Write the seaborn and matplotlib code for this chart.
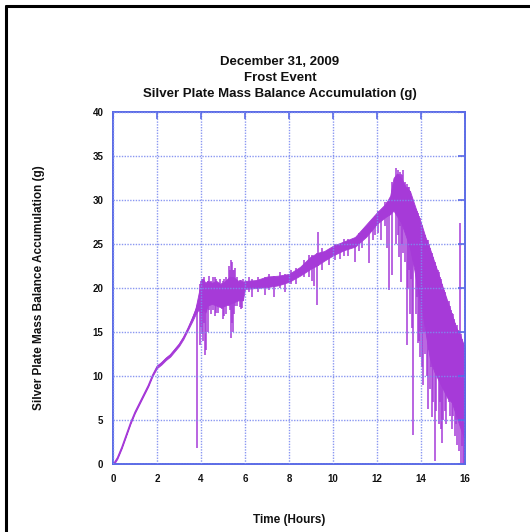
import numpy as np
import pandas as pd
import matplotlib
matplotlib.use("Agg")
import matplotlib.pyplot as plt
import seaborn as sns
from matplotlib.lines import Line2D

# ---- data ----
hours = [0.05, 0.2, 0.4, 0.6, 0.8, 1.0, 1.2, 1.4, 1.6, 1.8, 2.0, 2.2, 2.4, 2.6, 2.8,
         3.0, 3.2, 3.4, 3.6, 3.75, 3.9, 4.0, 4.1, 4.2, 4.3, 4.5, 4.7, 4.9, 5.1, 5.3,
         5.5, 5.7, 5.9, 6.0, 6.5, 7.0, 7.5, 8.0, 8.5, 9.0, 9.3, 9.6, 10.0, 10.5, 11.0,
         11.5, 12.0, 12.4, 12.6, 12.75, 12.9, 13.1, 13.3, 13.5, 13.7, 13.9, 14.05, 14.2,
         14.4, 14.6, 14.8, 15.0, 15.2, 15.4, 15.6, 15.8, 15.95, 16.0]
mass_lower = [0.0, 0.6, 1.8, 3.2, 4.6, 5.8, 6.8, 7.8, 8.8, 10.0, 10.9, 11.3, 11.8, 12.2, 12.8,
              13.4, 14.2, 15.2, 16.2, 17.0, 17.6, 17.0, 17.6, 17.2, 18.0, 18.2, 18.0, 17.8, 18.0, 18.2,
              18.4, 18.6, 18.6, 19.9, 20.0, 20.1, 20.3, 20.7, 21.4, 22.2, 22.6, 23.1, 23.7, 24.3, 24.7,
              25.8, 27.3, 28.1, 28.4, 28.8, 28.2, 27.4, 26.0, 24.5, 22.0, 19.0, 17.5, 15.0,
              12.0, 10.5, 9.5, 8.5, 7.5, 7.0, 5.5, 4.0, 3.0, 3.0]
mass_upper = [0.2, 0.8, 2.0, 3.4, 4.8, 6.0, 7.0, 8.0, 9.0, 10.2, 11.2, 11.6, 12.1, 12.5, 13.1,
              13.7, 14.5, 15.5, 16.7, 17.7, 19.5, 20.8, 21.0, 20.6, 20.8, 20.6, 20.8, 20.4, 20.8, 21.3,
              21.2, 20.8, 20.7, 20.8, 20.9, 21.3, 21.4, 21.6, 22.4, 23.6, 24.0, 24.2, 24.8, 25.3, 25.8,
              27.2, 28.6, 29.6, 30.5, 32.5, 33.0, 32.5, 31.5, 31.0, 29.5, 28.0, 27.0, 25.8,
              24.5, 23.0, 21.5, 20.0, 18.5, 17.0, 15.5, 14.5, 13.5, 13.3]

spike_hours = [3.82, 3.97, 4.02, 4.05, 4.1, 4.14, 4.18, 4.24, 4.3, 4.35, 4.45, 4.55, 4.62, 4.7,
               4.78, 4.85, 4.95, 5.0, 5.05, 5.15, 5.25, 5.32, 5.38, 5.42, 5.45, 5.5, 5.55, 5.65,
               5.75, 5.8, 5.87, 5.92, 6.2, 6.3, 6.6, 6.9, 7.1, 7.3, 7.6, 7.8, 8.1, 8.3, 8.7, 8.9,
               9.05, 9.15, 9.27, 9.33, 9.5, 9.8, 10.1, 10.3, 10.5, 10.7, 11.0, 11.2, 11.3, 11.62,
               11.8, 11.9, 12.05, 12.2, 12.35, 12.45, 12.55, 12.7, 12.85, 12.95, 13.0, 13.05,
               13.1, 13.15, 13.2, 13.25, 13.35, 13.4, 13.45, 13.5, 13.55, 13.6, 13.65, 13.75,
               13.8, 13.85, 13.9, 13.95, 14.0, 14.05, 14.1, 14.15, 14.2, 14.25, 14.3, 14.35,
               14.4, 14.45, 14.5, 14.55, 14.6, 14.65, 14.7, 14.75, 14.8, 14.85, 14.9, 14.95,
               15.0, 15.05, 15.1, 15.15, 15.2, 15.25, 15.3, 15.35, 15.4, 15.45, 15.5, 15.55,
               15.6, 15.62, 15.68, 15.72, 15.75, 15.8, 15.85, 15.9, 15.95]
spike_low = [1.8, 13.5, 15.6, 14.8, 14.0, 16.0, 12.4, 13.0, 15.0, 17.5, 17.0, 17.5, 16.8, 17.2,
             17.2, 17.8, 17.6, 16.5, 16.8, 17.0, 18.0, 17.5, 14.3, 16.0, 15.0, 17.0, 18.0, 18.0,
             17.8, 17.6, 17.7, 18.5, 19.5, 19.0, 19.6, 19.2, 19.8, 19.0, 20.0, 19.6, 20.4, 20.5,
             21.2, 21.2, 20.8, 20.2, 18.1, 22.5, 22.0, 22.6, 23.2, 23.3, 23.6, 23.6, 23.0, 24.2,
             24.5, 22.8, 25.5, 26.0, 26.3, 25.5, 27.0, 24.5, 19.8, 21.5, 25.0, 26.0, 23.5, 27.0,
             20.7, 25.0, 24.0, 23.0, 13.5, 20.0, 22.0, 17.0, 21.0, 15.5, 3.3, 17.0,
             19.0, 13.7, 14.0, 12.2, 15.0, 11.0, 9.0, 15.0, 12.5, 10.0, 6.3, 13.0,
             8.5, 11.0, 5.3, 7.0, 12.0, 0.3, 6.0, 10.0, 4.6, 7.0, 4.0, 2.4,
             5.0, 9.0, 6.0, 4.5, 8.0, 7.0, 5.5, 8.5, 4.0, 5.5, 7.5, 3.2,
             4.5, 2.2, 6.0, 1.5, 14.0, 0.0, 2.0, 0.0, 0.0]
spike_high = [18.0, 20.5, 20.8, 21.0, 21.0, 21.2, 20.0, 20.2, 20.8, 21.4, 20.8, 21.2, 21.2, 21.0,
              20.6, 21.0, 20.6, 20.8, 21.0, 21.2, 22.5, 22.0, 23.2, 23.0, 22.0, 22.0, 22.3, 21.3,
              20.9, 20.9, 20.8, 21.0, 21.2, 21.0, 21.3, 21.2, 21.6, 21.4, 21.8, 21.6, 22.0, 22.3,
              23.2, 23.8, 23.8, 23.6, 24.0, 26.4, 24.5, 24.4, 25.0, 25.0, 25.6, 25.6, 25.6, 26.2,
              26.5, 27.0, 27.8, 28.2, 28.8, 28.4, 29.8, 29.8, 29.5, 32.0, 33.6, 33.4, 33.0, 33.2,
              33.0, 32.8, 33.4, 32.0, 31.8, 31.5, 31.5, 31.0, 30.5, 30.0, 30.0, 29.0,
              28.8, 28.5, 28.2, 28.0, 27.5, 27.2, 26.0, 26.0, 26.0, 25.5, 25.4, 25.0,
              24.5, 24.0, 24.0, 23.5, 23.0, 23.0, 22.5, 22.0, 21.8, 21.3, 21.0, 20.5,
              20.0, 19.8, 19.6, 19.0, 18.5, 18.5, 18.0, 17.5, 17.2, 17.0, 16.5, 16.0,
              15.6, 15.8, 15.2, 15.0, 27.4, 14.8, 14.2, 13.8, 13.6]

x_ticks = [0, 2, 4, 6, 8, 10, 12, 14, 16]
y_ticks = [0, 5, 10, 15, 20, 25, 30, 35, 40]
title_lines = ["December 31, 2009", "Frost Event", "Silver Plate Mass Balance Accumulation (g)"]
x_label = "Time (Hours)"
y_label = "Silver Plate Mass Balance Accumulation (g)"

# ---- style ----
sns.set_style("white")
plt.rcParams["font.family"] = ["Liberation Sans", "DejaVu Sans"]
purple = "#a63ad8"
blue = "#5a6ae6"
grid_blue = "#7d8cf0"

fig = plt.figure(figsize=(5.30, 5.32), dpi=100)
ax = fig.add_axes([0.2132, 0.1278, 0.6642, 0.6617])

df = pd.DataFrame({
    "hours": hours + hours,
    "mass": mass_lower + mass_upper,
})
sns.lineplot(data=df, x="hours", y="mass", estimator="mean", errorbar=("pi", 100),
             color=purple, linewidth=0.9, err_kws={"alpha": 1.0, "linewidth": 0.6,
                                                   "edgecolor": purple}, ax=ax)
ax.vlines(spike_hours, spike_low, spike_high, color=purple, linewidth=1.1, zorder=2)

ax.set_xlim(0, 16)
ax.set_ylim(0, 40)
ax.set_xticks(x_ticks)
ax.set_yticks(y_ticks)
ax.set_axisbelow(False)
ax.grid(True, color=grid_blue, linestyle=(0, (1, 1)), linewidth=1.0, alpha=0.9)
for s in ax.spines.values():
    s.set_color(blue)
    s.set_linewidth(1.4)
ax.tick_params(direction="in", length=5, width=1.2, color=blue, top=True, right=True,
               labelsize=7, pad=7, labelcolor="#111111")
for lab in ax.get_xticklabels() + ax.get_yticklabels():
    lab.set_fontweight("bold")

ax.set_xlabel(x_label, fontsize=8.5, fontweight="bold", labelpad=22, color="#111111")
ax.set_ylabel(y_label, fontsize=8.5, fontweight="bold", labelpad=34, color="#111111")
ax.set_title("\n".join(title_lines), fontsize=9.5, fontweight="bold", pad=11,
             linespacing=1.45, color="#111111", x=0.474)

# outer frame (only left and top visible in the reference)
fig.add_artist(Line2D([0.0113, 0.0113], [0.0, 0.9887], transform=fig.transFigure,
                      color="black", linewidth=2.2))
fig.add_artist(Line2D([0.0113, 1.0], [0.9887, 0.9887], transform=fig.transFigure,
                      color="black", linewidth=2.2))

fig.savefig("out.png", dpi=100, facecolor="white")
